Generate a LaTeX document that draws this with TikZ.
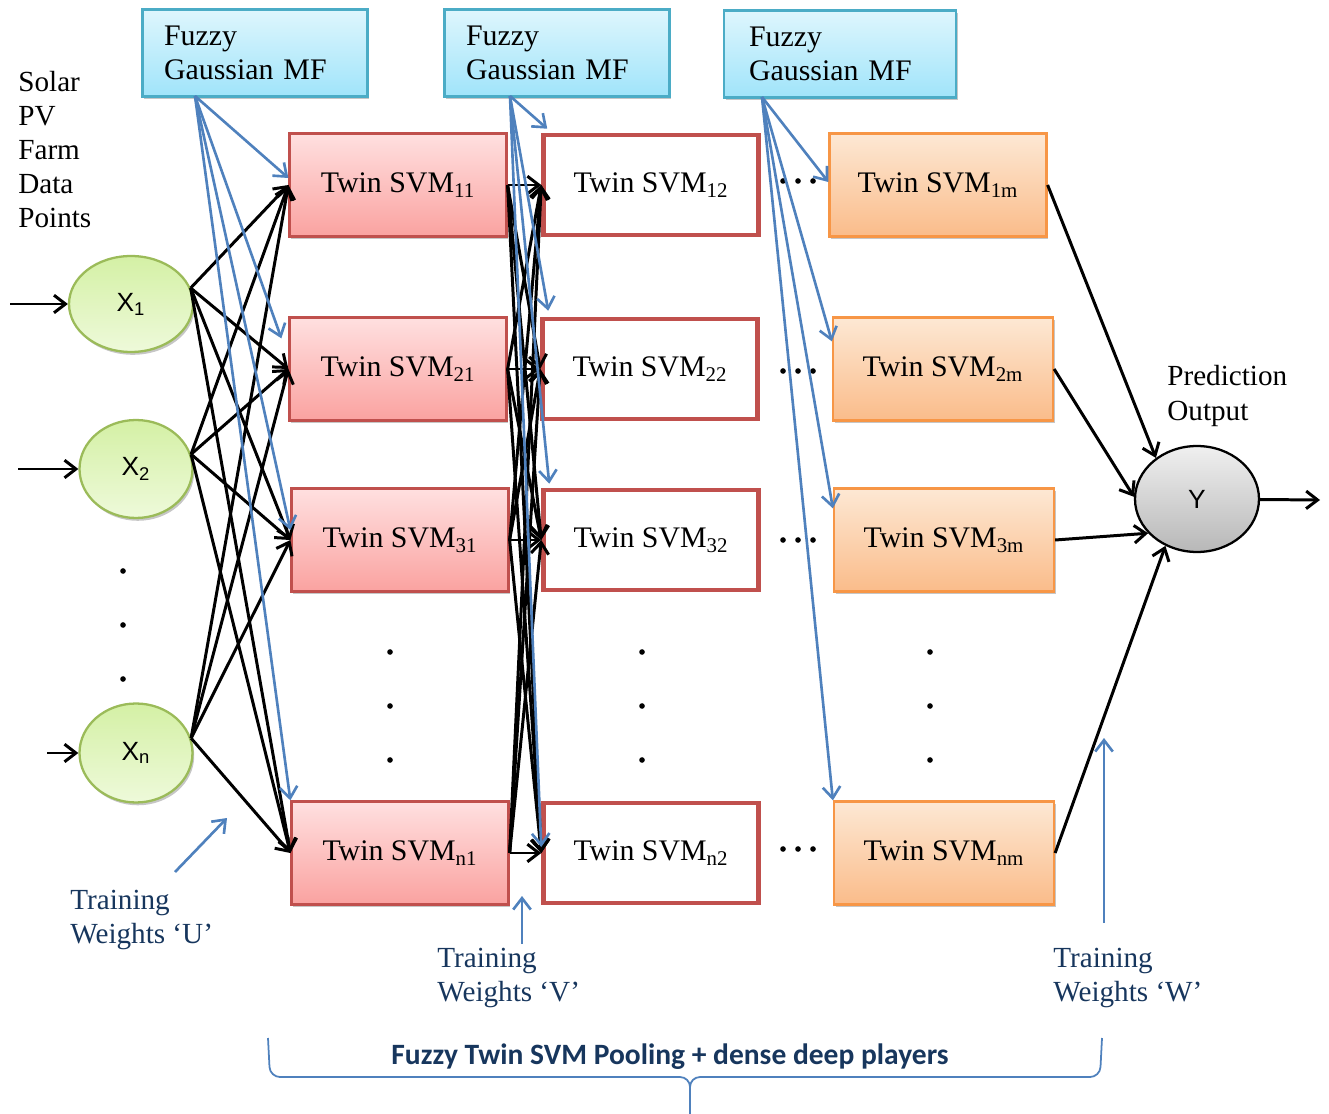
\documentclass[tikz,border=0pt]{standalone}
\usepackage{fontspec}
\setmainfont{Liberation Serif}
\setsansfont{Liberation Sans}
\newfontfamily\calibri{Carlito}
\usetikzlibrary{arrows.meta,shapes.geometric,shadows}

\definecolor{mfline}{RGB}{75,172,198}
\definecolor{mftop}{RGB}{222,246,253}
\definecolor{mfbot}{RGB}{160,228,250}
\definecolor{redline}{RGB}{192,80,77}
\definecolor{pinktop}{RGB}{255,224,224}
\definecolor{pinkbot}{RGB}{250,162,160}
\definecolor{orline}{RGB}{247,150,70}
\definecolor{ortop}{RGB}{253,232,212}
\definecolor{orbot}{RGB}{250,188,138}
\definecolor{grline}{RGB}{155,187,89}
\definecolor{grtop}{RGB}{212,240,165}
\definecolor{grbot}{RGB}{238,250,218}
\definecolor{wblue}{RGB}{79,129,189}
\definecolor{navy}{RGB}{23,54,93}

\begin{document}
\begin{tikzpicture}[x=0.02cm, y=-0.02cm,
  every node/.style={align=center, inner sep=0pt},
  box/.style={minimum width=4.34cm, minimum height=2.06cm, font=\fontsize{17}{20}\selectfont,
    drop shadow={shadow xshift=1pt, shadow yshift=-1.6pt, opacity=0.45}},
  mf/.style={box, draw=mfline, line width=1.3pt, top color=mftop, bottom color=mfbot,
    minimum width=4.5cm, minimum height=1.74cm, text width=3.64cm, inner xsep=0.43cm,
    align=left, font=\fontsize{17}{19.5}\selectfont},
  pinkbox/.style={box, draw=redline, line width=1.3pt, top color=pinktop, bottom color=pinkbot},
  whitebox/.style={minimum width=4.3cm, minimum height=2cm, draw=redline, line width=2.6pt,
    fill=white, font=\fontsize{17}{20}\selectfont},
  orbox/.style={box, draw=orline, line width=1.3pt, top color=ortop, bottom color=orbot, minimum width=4.4cm},
  inp/.style={ellipse, draw=grline, line width=1.3pt, top color=grtop, bottom color=grbot,
    font=\sffamily\fontsize{15}{17}\selectfont,
    drop shadow={shadow xshift=1pt, shadow yshift=-1.6pt, opacity=0.45}},
  outp/.style={ellipse, draw, line width=1.3pt, top color=black!6, bottom color=black!28,
    minimum width=2.48cm, minimum height=2.12cm, font=\sffamily\fontsize{15}{17}\selectfont},
  txt/.style={align=left, font=\fontsize{16.6}{19.4}\selectfont},
  wlabel/.style={txt, text=navy},
  wire/.style={draw, line width=1.7pt, -{Straight Barb[length=6.5pt,width=10pt]}},
  mfwire/.style={draw=wblue, line width=1.5pt, -{Straight Barb[length=6.5pt,width=10pt]}},
  dot/.style={fill, circle, minimum size=3.2pt}]

% background
\useasboundingbox (0,0) rectangle (1329,1114);

% fuzzy membership boxes
\node[mf] (mf1) at (255,53) {Fuzzy\\Gaussian MF};
\node[mf] (mf2) at (557,53) {Fuzzy\\Gaussian MF};
\node[mf, minimum width=4.64cm] (mf3) at (840,54) {Fuzzy\\Gaussian MF};

\node[txt, anchor=north west] (solar) at (18,71) {Solar\\PV\\Farm\\Data\\Points};

% inputs
\node[inp, minimum width=2.48cm, minimum height=1.92cm] (x1) at (131,304) {X\textsubscript{1}};
\node[inp, minimum width=2.26cm, minimum height=1.96cm] (x2) at (136,469) {X\textsubscript{2}};
\node[inp, minimum width=2.26cm, minimum height=1.98cm] (xn) at (136,753) {X\textsubscript{n}};
\coordinate (in1) at (10,304);
\coordinate (in2) at (18,469);
\coordinate (inn) at (47,753);

% twin svm layers
\node[pinkbox] (s11) at (398,185) {Twin SVM\textsubscript{11}};
\node[pinkbox] (s21) at (398,369) {Twin SVM\textsubscript{21}};
\node[pinkbox] (s31) at (400,540) {Twin SVM\textsubscript{31}};
\node[pinkbox] (sn1) at (400,853) {Twin SVM\textsubscript{n1}};

\node[whitebox] (s12) at (651,185) {Twin SVM\textsubscript{12}};
\node[whitebox] (s22) at (650,369) {Twin SVM\textsubscript{22}};
\node[whitebox] (s32) at (651,540) {Twin SVM\textsubscript{32}};
\node[whitebox] (sn2) at (651,853) {Twin SVM\textsubscript{n2}};

\node[orbox, minimum width=4.34cm] (s1m) at (938,185) {Twin SVM\textsubscript{1m}};
\node[orbox] (s2m) at (943,369) {Twin SVM\textsubscript{2m}};
\node[orbox] (s3m) at (944,540) {Twin SVM\textsubscript{3m}};
\node[orbox] (snm) at (944,853) {Twin SVM\textsubscript{nm}};

% output
\node[outp] (y) at (1197,499) {Y};
\coordinate (out) at (1320,500);
\node[txt, anchor=west] (pred) at (1167,396) {Prediction\\Output};

% dots
\foreach \yy in {571,625,679} \node[dot] at (123,\yy) {};
\foreach \xx in {390,642,930}
  \foreach \yy in {652,706,760} \node[dot] at (\xx,\yy) {};
\foreach \yy in {181,371,540,849}
  \foreach \xx in {783,798,813} \node[dot] at (\xx,\yy) {};

% input connections
\draw[wire] (in1) -- (x1);
\draw[wire] (in2) -- (x2);
\draw[wire] (inn) -- (xn);
\foreach \i in {1,2,n}
  \foreach \j in {1,2,3,n}
    \draw[wire] (x\i.15) -- (s\j1.west);

% hidden layer connections
\foreach \i in {1,2,3,n}
  \foreach \j in {1,2,3,n}
    \draw[wire] (s\i1.east) -- (s\j2.west);

% fuzzy MF connections
\coordinate (f1) at (195,96);
\coordinate (f2) at (510,96);
\coordinate (f3) at (762,97);
\draw[mfwire] (f1) -- ([yshift=0.14cm]s11.west);
\draw[mfwire] (f1) -- ([xshift=-0.14cm,yshift=-0.44cm]s21.north west);
\draw[mfwire] (f1) -- ([yshift=0.2cm]s31.west);
\draw[mfwire] (f1) -- (sn1.north west);
\draw[mfwire] (f2) -- ([xshift=0.12cm,yshift=0.08cm]s12.north west);
\draw[mfwire] (f2) -- ([xshift=0.16cm,yshift=0.12cm]s22.north west);
\draw[mfwire] (f2) -- ([xshift=0.16cm,yshift=0.08cm]s32.north west);
\draw[mfwire] (f2) -- ([yshift=0.12cm]sn2.west);
\draw[mfwire] (f3) -- ([yshift=0.06cm]s1m.west);
\draw[mfwire] (f3) -- ([yshift=-0.5cm]s2m.north west);
\draw[mfwire] (f3) -- ([yshift=-0.42cm]s3m.north west);
\draw[mfwire] (f3) -- (snm.north west);

% to output
\draw[wire] (s1m.east) -- (y.135);
\draw[wire] (s2m.east) -- (y.178);
\draw[wire] (s3m.east) -- (y.215);
\draw[wire] (snm.east) -- (y.236);
\draw[wire] (y) -- (out);

% training weights
\node[wlabel, anchor=west] (tu) at (70,920) {Training\\Weights ‘U’};
\node[wlabel, anchor=west] (tv) at (437,978) {Training\\Weights ‘V’};
\node[wlabel, anchor=west] (tw) at (1053,978) {Training\\Weights ‘W’};
\coordinate (u0) at (175,872); \coordinate (u1) at (227,818);
\coordinate (v0) at (522,944); \coordinate (v1) at (522,896);
\coordinate (w0) at (1104,923); \coordinate (w1) at (1104,738);
\draw[mfwire] (u0) -- (u1);
\draw[mfwire] (v0) -- (v1);
\draw[mfwire] (w0) -- (w1);

% brace
\draw[wblue, line width=1pt, rounded corners=0.2cm]
  (268,1038) -- (270,1077) -- (690,1077) -- (690,1114);
\draw[wblue, line width=1pt, rounded corners=0.2cm]
  (1102,1038) -- (1100,1077) -- (690,1077) -- (690,1114);
\node[font=\calibri\bfseries\fontsize{16.8}{19}\selectfont, text=navy] (pool) at (670,1057)
  {Fuzzy Twin SVM Pooling + dense deep players};
\end{tikzpicture}
\end{document}
